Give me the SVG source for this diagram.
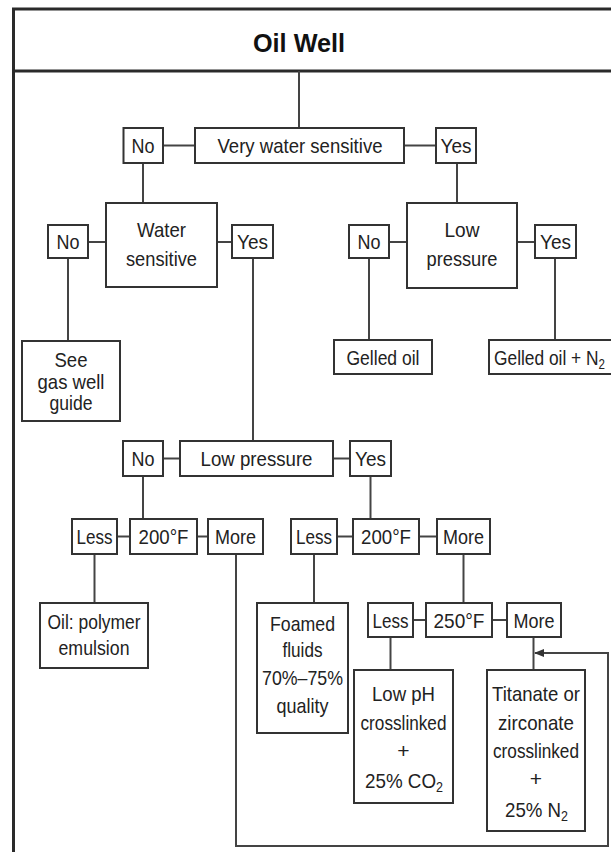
<svg xmlns="http://www.w3.org/2000/svg" width="611" height="852" viewBox="0 0 611 852">
  <style>
    .box { fill: #ffffff; stroke: #333333; stroke-width: 2; }
    .frame { fill: none; stroke: #2a2a2a; stroke-width: 3; }
    .wire { fill: none; stroke: #444444; stroke-width: 2; }
    .t { font-family: "Liberation Sans", Arial, sans-serif; font-size: 21px; fill: #222222; text-anchor: middle; }
    .title { font-family: "Liberation Sans", Arial, sans-serif; font-size: 26px; font-weight: bold; fill: #111111; text-anchor: middle; }
    .sub { font-size: 14px; }
  </style>
  <defs>
    <marker id="arrow" viewBox="0 0 10 10" refX="9" refY="5" markerWidth="5" markerHeight="5" orient="auto" markerUnits="strokeWidth">
      <path d="M0,1 L10,5 L0,9 Z" fill="#333333"/>
    </marker>
  </defs>

  <rect width="611" height="852" fill="#ffffff"/>

  <!-- outer frame and header band -->
  <g id="frame">
    <path class="frame" d="M13.5,860 V9 H620"/>
    <line class="frame" x1="13.5" y1="71" x2="620" y2="71"/>
    <text class="title" x="299" y="52" textLength="92" lengthAdjust="spacingAndGlyphs">Oil Well</text>
  </g>

  <!-- connectors -->
  <g id="connectors">
    <line class="wire" x1="299" y1="71" x2="299" y2="128"/>
    <line class="wire" x1="163" y1="145.5" x2="195" y2="145.5"/>
    <line class="wire" x1="404" y1="145.5" x2="436" y2="145.5"/>
    <line class="wire" x1="143" y1="163" x2="143" y2="203"/>
    <line class="wire" x1="457" y1="163" x2="457" y2="203"/>

    <line class="wire" x1="88" y1="242" x2="106" y2="242"/>
    <line class="wire" x1="217" y1="242" x2="232" y2="242"/>
    <line class="wire" x1="68" y1="258" x2="68" y2="341"/>
    <line class="wire" x1="253" y1="258" x2="253" y2="441"/>

    <line class="wire" x1="389" y1="242" x2="407" y2="242"/>
    <line class="wire" x1="517" y1="242" x2="535" y2="242"/>
    <line class="wire" x1="369" y1="258" x2="369" y2="340"/>
    <line class="wire" x1="555" y1="258" x2="555" y2="340"/>

    <line class="wire" x1="163" y1="458.5" x2="180" y2="458.5"/>
    <line class="wire" x1="333" y1="458.5" x2="350" y2="458.5"/>
    <line class="wire" x1="143" y1="476" x2="143" y2="519"/>
    <line class="wire" x1="370.5" y1="476" x2="370.5" y2="519"/>

    <line class="wire" x1="117" y1="536.5" x2="130" y2="536.5"/>
    <line class="wire" x1="197" y1="536.5" x2="208" y2="536.5"/>
    <line class="wire" x1="337" y1="536.5" x2="353" y2="536.5"/>
    <line class="wire" x1="419" y1="536.5" x2="437" y2="536.5"/>
    <line class="wire" x1="94.5" y1="554" x2="94.5" y2="603"/>
    <line class="wire" x1="314" y1="554" x2="314" y2="603"/>
    <line class="wire" x1="463.5" y1="554" x2="463.5" y2="603"/>

    <line class="wire" x1="413" y1="620" x2="426" y2="620"/>
    <line class="wire" x1="492" y1="620" x2="507" y2="620"/>
    <line class="wire" x1="390.5" y1="637" x2="390.5" y2="670"/>
    <line class="wire" x1="533.5" y1="637" x2="533.5" y2="670"/>

    <!-- high-temperature branch loops round to the titanate/zirconate choice -->
    <path class="wire" d="M236,554 V846 H608 V653 H535" marker-end="url(#arrow)"/>
  </g>

  <!-- level 1 -->
  <g id="very-water-sensitive">
    <rect class="box" x="195" y="128" width="209" height="35"/>
    <text class="t" x="300" y="153" textLength="165" lengthAdjust="spacingAndGlyphs">Very water sensitive</text>
  </g>
  <g id="vws-no">
    <rect class="box" x="123.5" y="128" width="39.5" height="35"/>
    <text class="t" x="143" y="153" textLength="23" lengthAdjust="spacingAndGlyphs">No</text>
  </g>
  <g id="vws-yes">
    <rect class="box" x="436" y="128" width="40" height="35"/>
    <text class="t" x="456" y="153" textLength="31" lengthAdjust="spacingAndGlyphs">Yes</text>
  </g>

  <!-- level 2, left -->
  <g id="water-sensitive">
    <rect class="box" x="106" y="203" width="111" height="84"/>
    <text class="t" x="161.5" y="237" textLength="49" lengthAdjust="spacingAndGlyphs">Water</text>
    <text class="t" x="161.5" y="266" textLength="71" lengthAdjust="spacingAndGlyphs">sensitive</text>
  </g>
  <g id="ws-no">
    <rect class="box" x="48" y="225" width="40" height="33"/>
    <text class="t" x="68" y="249" textLength="23" lengthAdjust="spacingAndGlyphs">No</text>
  </g>
  <g id="ws-yes">
    <rect class="box" x="232" y="225" width="41" height="33"/>
    <text class="t" x="252.5" y="249" textLength="31" lengthAdjust="spacingAndGlyphs">Yes</text>
  </g>
  <g id="see-gas-well-guide">
    <rect class="box" x="22" y="341" width="98" height="80"/>
    <text class="t" x="71" y="367" textLength="33" lengthAdjust="spacingAndGlyphs">See</text>
    <text class="t" x="71" y="389" textLength="67" lengthAdjust="spacingAndGlyphs">gas well</text>
    <text class="t" x="71" y="410" textLength="43" lengthAdjust="spacingAndGlyphs">guide</text>
  </g>

  <!-- level 2, right -->
  <g id="low-pressure-a">
    <rect class="box" x="407" y="203" width="110" height="85"/>
    <text class="t" x="462" y="237" textLength="35" lengthAdjust="spacingAndGlyphs">Low</text>
    <text class="t" x="462" y="266" textLength="71" lengthAdjust="spacingAndGlyphs">pressure</text>
  </g>
  <g id="lpa-no">
    <rect class="box" x="349" y="225" width="40" height="33"/>
    <text class="t" x="369" y="249" textLength="23" lengthAdjust="spacingAndGlyphs">No</text>
  </g>
  <g id="lpa-yes">
    <rect class="box" x="535" y="225" width="41" height="33"/>
    <text class="t" x="555.5" y="249" textLength="31" lengthAdjust="spacingAndGlyphs">Yes</text>
  </g>
  <g id="gelled-oil">
    <rect class="box" x="334" y="340" width="98" height="34"/>
    <text class="t" x="383" y="365" textLength="73" lengthAdjust="spacingAndGlyphs">Gelled oil</text>
  </g>
  <g id="gelled-oil-n2">
    <rect class="box" x="489" y="340" width="140" height="34"/>
    <text class="t" x="494" y="365" style="text-anchor:start" textLength="111" lengthAdjust="spacingAndGlyphs">Gelled oil + N<tspan class="sub" dy="4">2</tspan></text>
  </g>

  <!-- level 3 -->
  <g id="low-pressure-b">
    <rect class="box" x="180" y="441" width="153" height="35"/>
    <text class="t" x="256.5" y="466" textLength="112" lengthAdjust="spacingAndGlyphs">Low pressure</text>
  </g>
  <g id="lpb-no">
    <rect class="box" x="123" y="441" width="40" height="35"/>
    <text class="t" x="143" y="466" textLength="23" lengthAdjust="spacingAndGlyphs">No</text>
  </g>
  <g id="lpb-yes">
    <rect class="box" x="350" y="441" width="41" height="35"/>
    <text class="t" x="370.5" y="466" textLength="31" lengthAdjust="spacingAndGlyphs">Yes</text>
  </g>

  <!-- temperature split, no-pressure side -->
  <g id="temp200-a">
    <rect class="box" x="130" y="519" width="67" height="35"/>
    <text class="t" x="163.5" y="544" textLength="50" lengthAdjust="spacingAndGlyphs">200°F</text>
  </g>
  <g id="t200a-less">
    <rect class="box" x="72" y="519" width="45" height="35"/>
    <text class="t" x="94.5" y="544" textLength="36" lengthAdjust="spacingAndGlyphs">Less</text>
  </g>
  <g id="t200a-more">
    <rect class="box" x="208" y="519" width="55" height="35"/>
    <text class="t" x="235.5" y="544" textLength="41" lengthAdjust="spacingAndGlyphs">More</text>
  </g>
  <g id="oil-polymer-emulsion">
    <rect class="box" x="40" y="603" width="108" height="65"/>
    <text class="t" x="94" y="629" textLength="93" lengthAdjust="spacingAndGlyphs">Oil: polymer</text>
    <text class="t" x="94" y="655" textLength="71" lengthAdjust="spacingAndGlyphs">emulsion</text>
  </g>

  <!-- temperature split, low-pressure side -->
  <g id="temp200-b">
    <rect class="box" x="353" y="519" width="66" height="35"/>
    <text class="t" x="386" y="544" textLength="50" lengthAdjust="spacingAndGlyphs">200°F</text>
  </g>
  <g id="t200b-less">
    <rect class="box" x="291" y="519" width="46" height="35"/>
    <text class="t" x="314" y="544" textLength="36" lengthAdjust="spacingAndGlyphs">Less</text>
  </g>
  <g id="t200b-more">
    <rect class="box" x="437" y="519" width="53" height="35"/>
    <text class="t" x="463.5" y="544" textLength="41" lengthAdjust="spacingAndGlyphs">More</text>
  </g>
  <g id="foamed-fluids">
    <rect class="box" x="257" y="603" width="91" height="130"/>
    <text class="t" x="302.5" y="631" textLength="65" lengthAdjust="spacingAndGlyphs">Foamed</text>
    <text class="t" x="302.5" y="657" textLength="40" lengthAdjust="spacingAndGlyphs">fluids</text>
    <text class="t" x="302.5" y="685" textLength="81" lengthAdjust="spacingAndGlyphs">70%–75%</text>
    <text class="t" x="302.5" y="713" textLength="52" lengthAdjust="spacingAndGlyphs">quality</text>
  </g>

  <!-- 250°F split -->
  <g id="temp250">
    <rect class="box" x="426" y="603" width="66" height="34"/>
    <text class="t" x="459" y="628" textLength="51" lengthAdjust="spacingAndGlyphs">250°F</text>
  </g>
  <g id="t250-less">
    <rect class="box" x="368" y="603" width="45" height="34"/>
    <text class="t" x="390.5" y="628" textLength="36" lengthAdjust="spacingAndGlyphs">Less</text>
  </g>
  <g id="t250-more">
    <rect class="box" x="507" y="603" width="54" height="34"/>
    <text class="t" x="534" y="628" textLength="41" lengthAdjust="spacingAndGlyphs">More</text>
  </g>
  <g id="low-ph-crosslinked">
    <rect class="box" x="354" y="670" width="99" height="133"/>
    <text class="t" x="403.5" y="701" textLength="63" lengthAdjust="spacingAndGlyphs">Low pH</text>
    <text class="t" x="403.5" y="730" textLength="86" lengthAdjust="spacingAndGlyphs">crosslinked</text>
    <text class="t" x="403.5" y="758">+</text>
    <text class="t" x="404" y="788" textLength="78" lengthAdjust="spacingAndGlyphs">25% CO<tspan class="sub" dy="4">2</tspan></text>
  </g>
  <g id="titanate-zirconate">
    <rect class="box" x="487" y="670" width="98" height="161"/>
    <text class="t" x="536" y="701" textLength="88" lengthAdjust="spacingAndGlyphs">Titanate or</text>
    <text class="t" x="536" y="730" textLength="76" lengthAdjust="spacingAndGlyphs">zirconate</text>
    <text class="t" x="536" y="758" textLength="86" lengthAdjust="spacingAndGlyphs">crosslinked</text>
    <text class="t" x="536" y="786">+</text>
    <text class="t" x="536.5" y="817" textLength="63" lengthAdjust="spacingAndGlyphs">25% N<tspan class="sub" dy="4">2</tspan></text>
  </g>
</svg>
